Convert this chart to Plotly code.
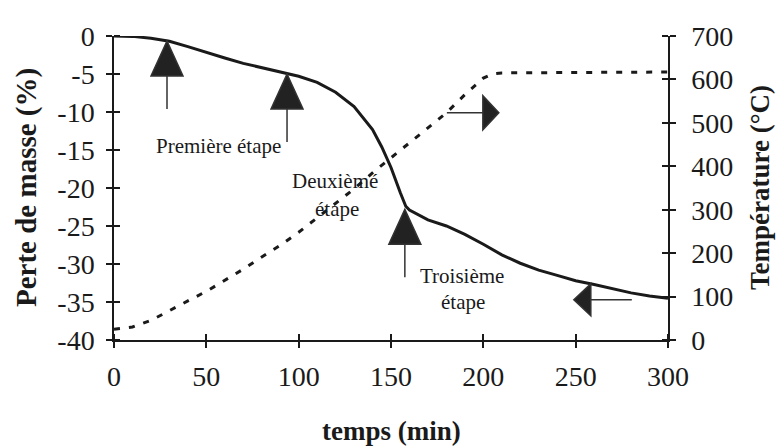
import plotly.graph_objects as go

# ---- data ----
mass_time = [0, 10, 20, 30, 40, 50, 60, 70, 80, 90, 100, 110, 120, 130, 140, 145, 150, 155,
             158, 160, 170, 180, 190, 200, 210, 220, 230, 240, 250, 260, 270, 280, 290, 300]
mass_loss = [0, -0.05, -0.3, -0.7, -1.4, -2.2, -2.9, -3.6, -4.2, -4.7, -5.3, -6.1, -7.4, -9.3,
             -12.3, -14.6, -17.3, -20.6, -22.4, -22.9, -24.2, -25.0, -26.1, -27.4, -28.8,
             -29.9, -30.8, -31.5, -32.2, -32.7, -33.3, -33.8, -34.2, -34.5]

temp_time = [0, 10, 20, 30, 40, 50, 60, 70, 80, 90, 100, 110, 120, 130, 140, 150, 160, 170,
             180, 190, 200, 205, 210, 250, 300]
temperature = [25, 30, 45, 68, 90, 112, 137, 163, 191, 218, 248, 282, 315, 348, 385, 420, 453,
               488, 523, 565, 603, 613, 615, 616, 617]

x_ticks = [0, 50, 100, 150, 200, 250, 300]
y_ticks = [0, -5, -10, -15, -20, -25, -30, -35, -40]
y_ticktext = ["0", "-5", "-10", "-15", "-20", "-25", "-30", "-35", "-40"]
y2_ticks = [0, 100, 200, 300, 400, 500, 600, 700]

# stage labels: (text, time, mass)
stage_labels = [("Première étape", 56.8, -14.5),
                ("Deuxièmé", 119.7, -19.1),
                ("étape", 120.7, -22.8),
                ("Troisième", 188.4, -31.6),
                ("étape", 189.0, -35.0)]

# arrow anchors (apex position in data units of time / mass axis) and direction
arrow_anchors = [(28.7, -0.66, "up"), (93.7, -5.0, "up"), (157.5, -22.8, "up"),
                 (249.0, -34.7, "left"), (208.4, -10.1, "right")]

INK = "#1a1a1a"
FONT = "Liberation Serif"

fig = go.Figure()
fig.add_trace(go.Scatter(x=mass_time, y=mass_loss, mode="lines",
                         line=dict(color=INK, width=3), showlegend=False, hoverinfo="skip"))
fig.add_trace(go.Scatter(x=temp_time, y=temperature, mode="lines", yaxis="y2",
                         line=dict(color=INK, width=3, dash="6px,9px"),
                         showlegend=False, hoverinfo="skip"))

arrow_paths = {
    "up": "M0,0 L-16,-35 L16,-35 Z M0,-35 L0,-68",
    "left": "M0,0 L17,16 L17,-16 Z M17,0 L58,0",
    "right": "M0,0 L-16,17 L-16,-17 Z M-16,0 L-52,0",
}
shapes = []
for ax_, ay_, d in arrow_anchors:
    shapes.append(dict(type="path", xref="x", yref="y", xsizemode="pixel", ysizemode="pixel",
                       xanchor=ax_, yanchor=ay_, path=arrow_paths[d],
                       fillcolor="#222222", line=dict(color="#333333", width=1.5)))

annotations = []
for txt, tx, ty in stage_labels:
    annotations.append(dict(text=txt, x=tx, y=ty, xref="x", yref="y", showarrow=False,
                            font=dict(family=FONT, size=21, color=INK)))

annotations += [
    dict(text="<b>Perte de masse (%)</b>", xref="paper", yref="paper", x=0, y=0.5,
         xanchor="center", yanchor="middle", xshift=-88, textangle=-90, showarrow=False,
         font=dict(family=FONT, size=29, color=INK)),
    dict(text="<b>Température (°C)</b>", xref="paper", yref="paper", x=1, y=0.5,
         xanchor="center", yanchor="middle", xshift=92, textangle=-90, showarrow=False,
         font=dict(family=FONT, size=27, color=INK)),
    dict(text="<b>temps (min)</b>", xref="paper", yref="paper", x=0.5, y=0,
         xanchor="center", yanchor="middle", yshift=-91, showarrow=False,
         font=dict(family=FONT, size=27, color=INK)),
]

tick_font = dict(family=FONT, size=28, color=INK)
axis_common = dict(showgrid=False, zeroline=False, showline=True, linecolor=INK, linewidth=1.5,
                   ticks="outside", ticklen=6, tickwidth=1.5, tickcolor=INK, tickfont=tick_font,
                   automargin=False)

fig.update_layout(
    width=776, height=447,
    margin=dict(l=114, r=108, t=36, b=107),
    paper_bgcolor="white", plot_bgcolor="white",
    font=dict(family=FONT, color=INK),
    xaxis=dict(range=[0, 300], tickmode="array", tickvals=x_ticks, ticklabelstandoff=5,
               minor=dict(ticks="inside", ticklen=6, tickwidth=1.5, tickcolor=INK,
                          tickmode="array", tickvals=x_ticks),
               **axis_common),
    yaxis=dict(range=[-40, 0], tickmode="array", tickvals=y_ticks, ticktext=y_ticktext,
               ticklabelstandoff=6,
               minor=dict(ticks="inside", ticklen=6, tickwidth=1.5, tickcolor=INK,
                          tickmode="array", tickvals=y_ticks),
               **axis_common),
    yaxis2=dict(range=[0, 700], overlaying="y", side="right", tickmode="array",
                tickvals=y2_ticks, ticklabelstandoff=10,
                minor=dict(ticks="inside", ticklen=6, tickwidth=1.5, tickcolor=INK,
                           tickmode="array", tickvals=y2_ticks),
                **axis_common),
    shapes=shapes,
    annotations=annotations,
)

fig.write_html("out.html", config={"displayModeBar": False},
               post_script="document.body.style.margin='0';")
